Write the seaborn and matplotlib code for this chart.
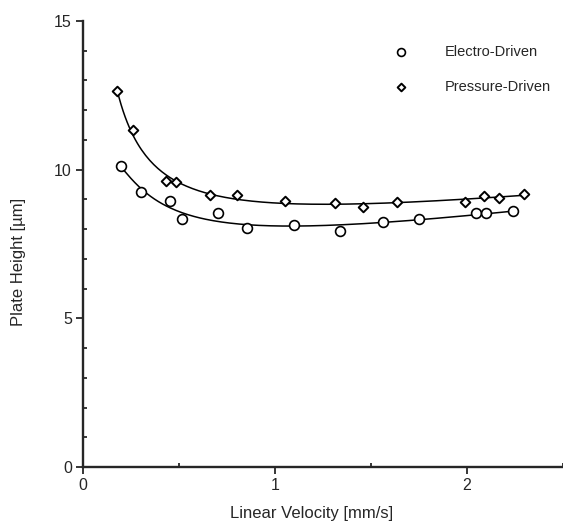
import numpy as np
import pandas as pd
import matplotlib
matplotlib.use("Agg")
import matplotlib.pyplot as plt
import seaborn as sns
from matplotlib.ticker import MultipleLocator

# values
electro_u = [0.198, 0.302, 0.453, 0.516, 0.703, 0.852, 1.10, 1.338, 1.56, 1.75, 2.047, 2.097, 2.24]
electro_h = [10.12, 9.24, 8.94, 8.33, 8.55, 8.04, 8.14, 7.92, 8.24, 8.33, 8.53, 8.53, 8.61]

pressure_u = [0.177, 0.258, 0.432, 0.484, 0.663, 0.802, 1.054, 1.311, 1.46, 1.635, 1.99, 2.09, 2.167, 2.297]
pressure_h = [12.65, 11.35, 9.63, 9.58, 9.14, 9.14, 8.94, 8.89, 8.74, 8.91, 8.91, 9.13, 9.04, 9.17]

series_labels = ["Electro-Driven", "Pressure-Driven"]


def fit_curve(u, h):
    # smooth van Deemter-like least-squares fit through the points
    u = np.asarray(u)
    basis = lambda x: np.column_stack([np.ones_like(x), x, 1 / x, 1 / x ** 2])
    coef, *_ = np.linalg.lstsq(basis(u), np.asarray(h), rcond=None)
    xs = np.linspace(u.min(), u.max(), 200)
    return pd.DataFrame({"u": xs, "h": basis(xs) @ coef})


sns.set_style("ticks")
plt.rcParams["font.family"] = ["Liberation Sans", "DejaVu Sans"]

fig = plt.figure(figsize=(5.63, 5.23), dpi=100)
ax = fig.add_axes([0.1474, 0.1071, 0.8526, 0.8528])

el = pd.DataFrame({"u": electro_u, "h": electro_h})
pr = pd.DataFrame({"u": pressure_u, "h": pressure_h})

sns.lineplot(data=fit_curve(electro_u, electro_h), x="u", y="h", color="black", linewidth=1.1, ax=ax)
sns.lineplot(data=fit_curve(pressure_u, pressure_h), x="u", y="h", color="black", linewidth=1.1, ax=ax)

sns.scatterplot(data=el, x="u", y="h", marker="o", s=50, facecolor="white",
                edgecolor="black", linewidth=1.2, label=series_labels[0], ax=ax, zorder=3)
sns.scatterplot(data=pr, x="u", y="h", marker="D", s=24, facecolor="white",
                edgecolor="black", linewidth=1.4, label=series_labels[1], ax=ax, zorder=3)

ax.set_xlim(0, 2.5)
ax.set_ylim(0, 15)
sns.despine(ax=ax)
for s in ("left", "bottom"):
    ax.spines[s].set_linewidth(1.7)

ax.xaxis.set_major_locator(MultipleLocator(1))
ax.xaxis.set_minor_locator(MultipleLocator(0.5))
ax.yaxis.set_major_locator(MultipleLocator(5))
ax.yaxis.set_minor_locator(MultipleLocator(1))
ax.tick_params(which="major", direction="out", length=5, width=1.3, labelsize=11.5, pad=3)
ax.tick_params(which="minor", direction="in", length=3, width=1.3)

ax.set_xlabel("Linear Velocity [mm/s]", fontsize=12)
ax.set_ylabel("Plate Height [µm]", fontsize=12)
ax.xaxis.set_label_coords(0.477, -0.088)
ax.yaxis.set_label_coords(-0.118, 0.46)

ax.legend(loc="upper left", bbox_to_anchor=(0.62, 0.975), frameon=False, fontsize=10.5,
          handlelength=1.0, handletextpad=2.5, labelspacing=1.4, markerscale=0.8)

fig.savefig("out.png", dpi=100)
